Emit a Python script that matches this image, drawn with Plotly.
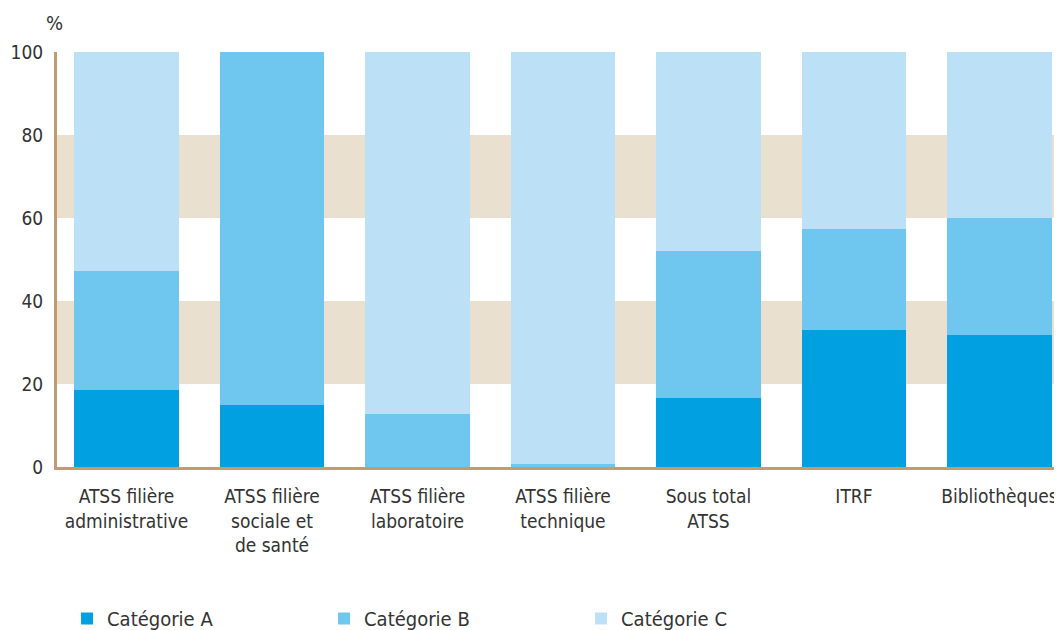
import plotly.graph_objects as go

categories = [
    "ATSS filière<br>administrative",
    "ATSS filière<br>sociale et<br>de santé",
    "ATSS filière<br>laboratoire",
    "ATSS filière<br>technique",
    "Sous total<br>ATSS",
    "ITRF",
    "Bibliothèques",
]
cat_a = [18.6, 14.9, 0.0, 0.0, 16.6, 33.0, 31.8]
cat_b = [28.6, 85.1, 12.8, 0.7, 35.4, 24.3, 28.2]
cat_c = [52.8, 0.0, 87.2, 99.3, 48.0, 42.7, 40.0]
y_ticks = [0, 20, 40, 60, 80, 100]
series_names = ["Catégorie A", "Catégorie B", "Catégorie C"]
colors = ["#00A0E1", "#6FC6EF", "#BCE1F7"]

FONT = "Liberation Sans Narrow, DejaVu Sans Condensed, Roboto Condensed, Arial Narrow, sans-serif"

fig = go.Figure()
for name, vals, col in zip(series_names, [cat_a, cat_b, cat_c], colors):
    fig.add_trace(go.Bar(x=categories, y=vals, name=name, marker_color=col,
                         marker_line_width=0, width=0.72))

for y0, y1 in [(20, 40), (60, 80)]:
    fig.add_shape(type="rect", xref="paper", yref="y", x0=0, x1=1, y0=y0, y1=y1,
                  fillcolor="#EAE0D0", line_width=0, layer="below")

fig.add_annotation(text="%", xref="paper", yref="paper", x=0, y=1.035,
                   xanchor="center", yanchor="bottom", xshift=-3, showarrow=False,
                   font=dict(family=FONT, size=20, color="#333333"))

fig.update_layout(
    barmode="stack",
    width=1062, height=630,
    margin=dict(l=49, r=0, t=44, b=171, autoexpand=False),
    plot_bgcolor="white", paper_bgcolor="white",
    font=dict(family=FONT, size=20, color="#333333"),
    showlegend=True,
    legend=dict(orientation="h", x=0.0556, xref="container", y=0.0, yref="container",
                xanchor="left", yanchor="bottom",
                entrywidth=212, entrywidthmode="pixels",
                font=dict(family=FONT, size=20, color="#333333"),
                traceorder="normal"),
)
fig.update_xaxes(range=[-0.478, 6.485], showgrid=False, showline=True, automargin=False,
                 linecolor="#C49C6A", linewidth=3, ticks="", ticklabelstandoff=10,
                 tickfont=dict(family=FONT, size=19, color="#333333"))
fig.update_yaxes(range=[0, 100], tickvals=y_ticks, showgrid=False, zeroline=False,
                 automargin=False,
                 showline=True, linecolor="#C49C6A", linewidth=3, ticks="",
                 ticklabelstandoff=7,
                 tickfont=dict(family=FONT, size=19, color="#333333"))

fig.write_html("out.html")
